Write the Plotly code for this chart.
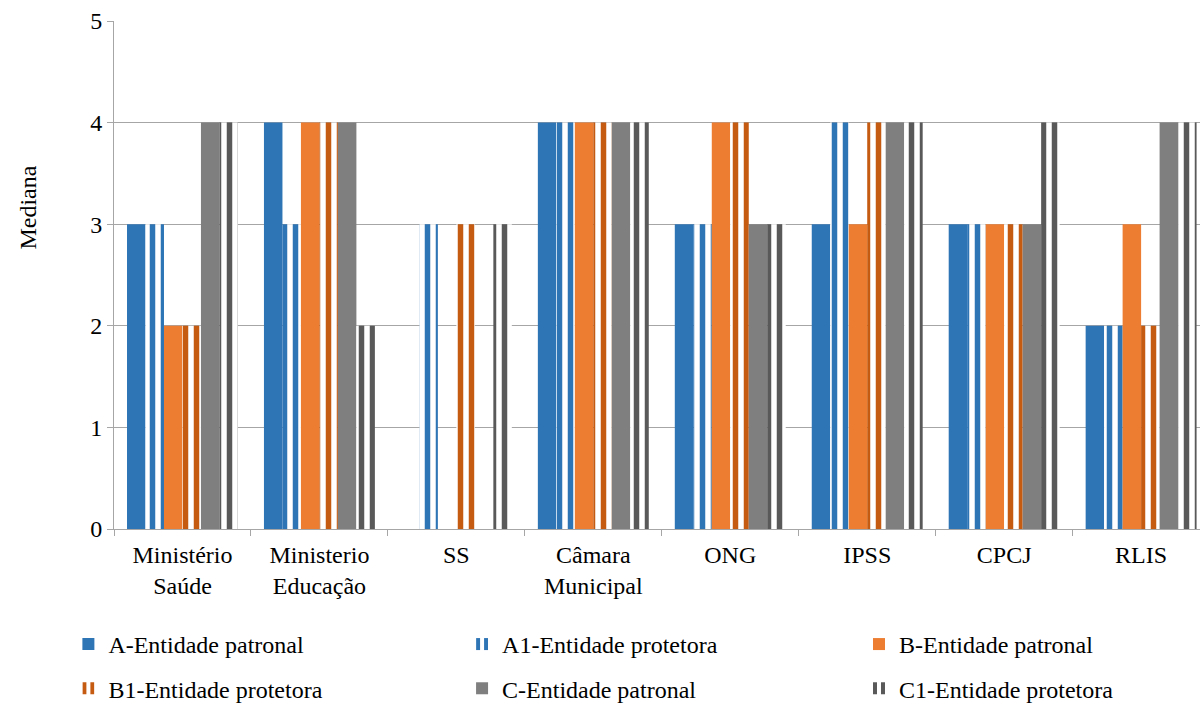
import plotly.graph_objects as go

# Categories (institutions) on the x axis
categories = ["Ministério<br>Saúde", "Ministerio<br>Educação", "SS", "Câmara<br>Municipal",
              "ONG", "IPSS", "CPCJ", "RLIS"]

# Median scores per series
a_patronal = [3, 4, 0, 4, 3, 3, 3, 2]
a1_protetora = [3, 3, 3, 4, 3, 4, 3, 2]
b_patronal = [2, 4, 0, 4, 4, 3, 3, 3]
b1_protetora = [2, 4, 3, 4, 4, 4, 3, 2]
c_patronal = [4, 4, 0, 4, 3, 4, 3, 4]
c1_protetora = [4, 2, 3, 4, 3, 4, 4, 4]

series_names = ["A-Entidade patronal", "A1-Entidade protetora", "B-Entidade patronal",
                "B1-Entidade protetora", "C-Entidade patronal", "C1-Entidade protetora"]
series_values = [a_patronal, a1_protetora, b_patronal, b1_protetora, c_patronal, c1_protetora]

FONT = "Liberation Serif, DejaVu Serif, serif"
GRID = "#A6A6A6"

# (colour, striped?, legend box, legend group)
styles = [
    ("#2E75B6", False, "legend", "g1"),
    ("#2E75B6", True, "legend2", "g1"),
    ("#ED7D31", False, "legend3", "g1"),
    ("#C55A11", True, "legend", "g2"),
    ("#7F7F7F", False, "legend2", "g2"),
    ("#595959", True, "legend3", "g2"),
]

fig = go.Figure()
for name, vals, (color, striped, leg, grp) in zip(series_names, series_values, styles):
    if striped:
        marker = dict(color="white",
                      pattern=dict(shape="|", fgcolor=color, bgcolor="white",
                                   size=11, solidity=0.5, fillmode="replace"),
                      line=dict(width=0))
    else:
        marker = dict(color=color, line=dict(width=0))
    fig.add_trace(go.Bar(x=categories, y=vals, name=name, marker=marker,
                         legend=leg, legendgroup=grp))

legend_common = dict(orientation="v", xanchor="left", yanchor="top",
                     font=dict(family=FONT, size=24, color="black"),
                     bgcolor="rgba(0,0,0,0)", tracegroupgap=10,
                     itemclick=False, itemdoubleclick=False)

fig.update_layout(
    width=1203, height=704,
    margin=dict(l=114, r=3, t=21, b=175, autoexpand=False),
    paper_bgcolor="white", plot_bgcolor="white",
    barmode="group", bargap=0.19, bargroupgap=0,
    font=dict(family=FONT, size=24, color="black"),
    legend=dict(x=-0.042, y=-0.183, **legend_common),
    legend2=dict(x=0.3205, y=-0.183, **legend_common),
    legend3=dict(x=0.686, y=-0.183, **legend_common),
    xaxis=dict(type="category", range=[-0.5, 7.43],
               showline=True, linecolor=GRID, linewidth=1,
               ticks="outside", tickson="boundaries", ticklen=6, tickcolor=GRID,
               ticklabelstandoff=4,
               showgrid=False, tickfont=dict(family=FONT, size=24, color="black")),
    yaxis=dict(range=[0, 5], dtick=1, showgrid=True, gridcolor=GRID, gridwidth=1,
               zeroline=False, showline=True, linecolor=GRID, linewidth=1,
               ticks="outside", ticklen=6, tickcolor=GRID,
               tickfont=dict(family=FONT, size=24, color="black")),
)

# Y-axis caption, placed in the left margin
fig.add_annotation(text="Mediana", textangle=-90, showarrow=False,
                   xref="paper", yref="paper", x=-0.0795, y=0.632,
                   xanchor="center", yanchor="middle",
                   font=dict(family=FONT, size=24, color="black"))

fig.write_html("out.html")
